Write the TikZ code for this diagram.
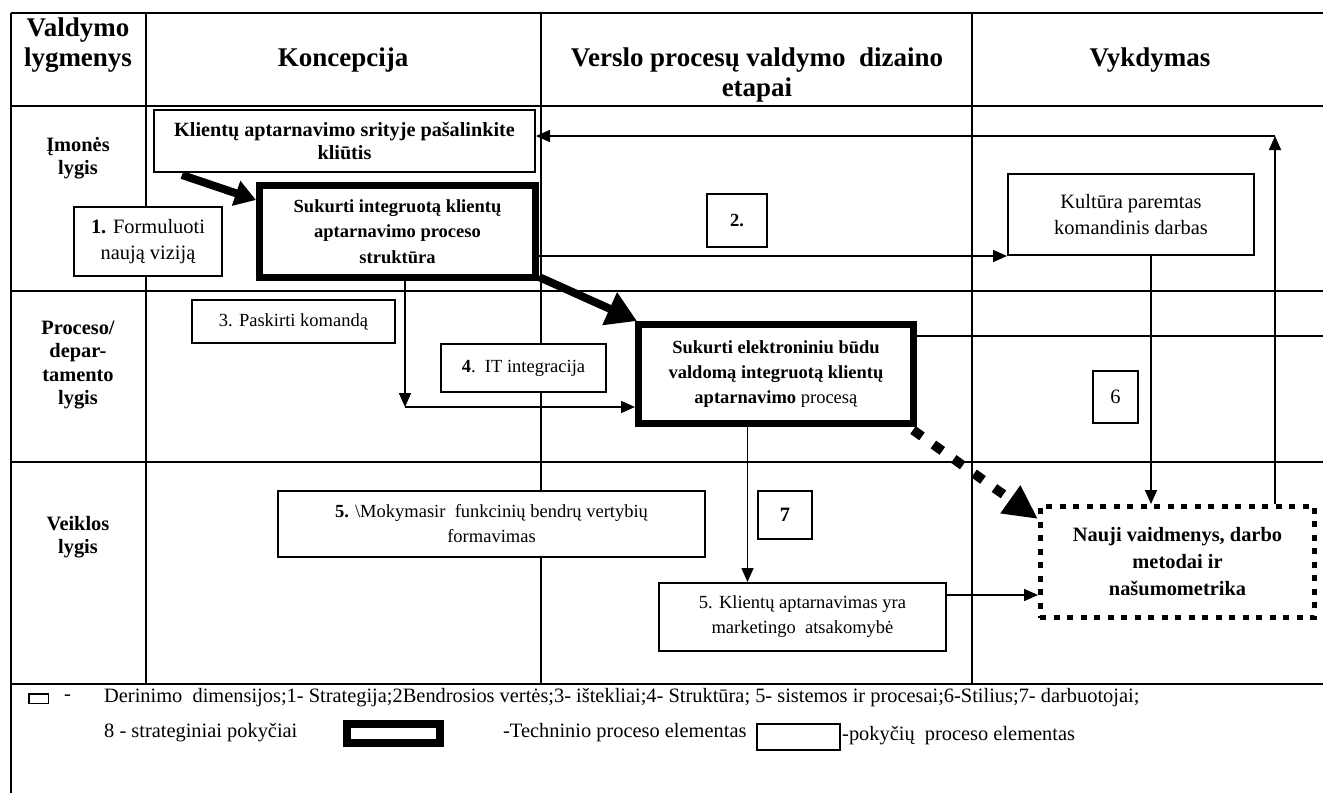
\documentclass[tikz,border=0pt]{standalone}
\usepackage{fontspec}
\setmainfont{Liberation Serif}
\usetikzlibrary{arrows.meta,calc}

\begin{document}
\begin{tikzpicture}[x=1pt,y=-1pt,
  gridline/.style={line width=2.6pt},
  txt/.style={inner sep=0pt,align=center},
  headfont/.style={txt,font=\bfseries\fontsize{27}{30}\selectfont},
  levelfont/.style={txt,font=\bfseries\fontsize{20.4}{23.3}\selectfont},
  plainbox/.style={draw,fill=white,line width=1.8pt,inner sep=0pt,align=center,
    font=\fontsize{18.5}{25}\selectfont},
  bigbox/.style={plainbox,font=\fontsize{20.4}{26.5}\selectfont},
  heavybox/.style={plainbox,line width=7pt,font=\bfseries\fontsize{18.5}{25.2}\selectfont},
  dotbox/.style={draw,fill=white,line width=4.8pt,dash pattern=on 6pt off 7.5pt,
    inner sep=0pt,align=center,font=\bfseries\fontsize{20.4}{27}\selectfont},
  conn/.style={line width=1.6pt,-{Triangle[length=14pt,width=12pt]}},
  fatarrow/.style={line width=8pt,-{Triangle[length=21pt,width=25pt]}},
  fatarrowb/.style={line width=8pt,-{Triangle[length=30pt,width=34pt]}},
  dotarrow/.style={line width=9.5pt,dash pattern=on 11pt off 14pt,
    -{Triangle[length=34pt,width=32pt]}},
  legendfont/.style={inner sep=0pt,anchor=west,font=\fontsize{20.4}{24}\selectfont},
]
\useasboundingbox (0,0) rectangle (1323,793);
\fill[white] (0,0) rectangle (1323,793);

% table grid
\draw[gridline] (11,13) -- (1323,13);
\draw[gridline] (11,106) -- (1323,106);
\draw[gridline] (11,291) -- (1323,291);
\draw[gridline] (11,462) -- (1323,462);
\draw[gridline] (11,684) -- (1323,684);
\draw[gridline] (11,13) -- (11,793);
\draw[gridline] (146,13) -- (146,684);
\draw[gridline] (541,13) -- (541,684);
\draw[gridline] (972,13) -- (972,684);

% column headers
\node[headfont] (hlevels) at (78,45) {Valdymo\\lygmenys};
\node[headfont] (hconcept) at (343,60) {Koncepcija};
\node[headfont] (hdesign) at (757,75) {Verslo procesų valdymo\ \ dizaino\\etapai};
\node[headfont] (hexec) at (1150,60) {Vykdymas};

% row labels
\node[levelfont] (lcompany) at (78,158.5) {Įmonės\\lygis};
\node[levelfont] (lprocess) at (78,365) {Proceso/\\depar-\\tamento\\lygis};
\node[levelfont] (lactivity) at (78,537) {Veiklos\\lygis};

% process elements
\node[plainbox,font=\bfseries\fontsize{20.2}{23}\selectfont,
  minimum width=381.2pt,minimum height=62.2pt] (klient) at (344.5,141)
  {Klientų aptarnavimo srityje pašalinkite\\kliūtis};
\node[heavybox,minimum width=276pt,minimum height=92pt] (suk1) at (397.5,231.5)
  {Sukurti integruotą klientų\\aptarnavimo proceso\\struktūra};
\node[bigbox,minimum width=148.2pt,minimum height=69.2pt] (form) at (148,241.5)
  {\textbf{1.} Formuluoti\\naują viziją};
\node[plainbox,font=\bfseries\fontsize{18.5}{22}\selectfont,
  minimum width=60.2pt,minimum height=53.2pt] (two) at (737,220.5) {2.};
\node[bigbox,minimum width=246.2pt,minimum height=81.2pt] (kult) at (1131,214.5)
  {Kultūra paremtas\\komandinis darbas};
\node[plainbox,minimum width=203.2pt,minimum height=43.2pt] (pask) at (293.5,321.5)
  {3. Paskirti komandą};
\node[plainbox,minimum width=165.2pt,minimum height=48.2pt] (itint) at (523.5,368)
  {\textbf{4}.\ \ IT integracija};
\node[heavybox,minimum width=275pt,minimum height=99pt] (suk2) at (776,374)
  {Sukurti elektroniniu būdu\\valdomą integruotą klientų\\aptarnavimo \textmd{procesą}};
\node[bigbox,minimum width=45.2pt,minimum height=52.2pt] (six) at (1115.5,397) {6};
\node[plainbox,minimum width=427.2pt,minimum height=66.2pt] (mok) at (491.5,524)
  {\textbf{5.} \textbackslash Mokymasir\ \ funkcinių bendrų vertybių\\formavimas};
\node[bigbox,font=\bfseries\fontsize{20.4}{24}\selectfont,
  minimum width=54.2pt,minimum height=48.2pt] (seven) at (785,515) {7};
\node[plainbox,minimum width=287.2pt,minimum height=68.2pt] (klapt) at (802.5,617)
  {5. Klientų aptarnavimas yra\\marketingo\ \ atsakomybė};
\node[dotbox,minimum width=274.2pt,minimum height=111.2pt] (nauji) at (1177.5,562)
  {Nauji vaidmenys, darbo\\metodai ir\\našumometrika};

% connectors
\coordinate (fb) at (1275,136);
\coordinate (bend) at (405,407);
\coordinate (redge) at (1323,336);

\draw[fatarrow] ([xshift=29pt,yshift=-2pt]klient.south west) -- ([yshift=-18pt]suk1.north west);
\draw[fatarrowb] ([yshift=4pt]suk1.south east) -- ([xshift=2pt]suk2.north west);
\draw[conn] (suk1.east |- kult.south west) -- (kult.south west);
\draw[conn] ([xshift=20pt]kult.south) -- ([xshift=20pt]kult.south |- nauji.north);
\draw[conn] (fb |- nauji.north) -- (fb);
\draw[conn] (fb) -- (fb -| klient.east);
\draw[conn] (bend |- suk1.south) -- (bend);
\draw[conn] (bend) -- (bend -| suk2.west);
\draw[line width=1.6pt] (suk2.east |- redge) -- (redge);
\draw[conn] ([xshift=-28.5pt]suk2.south) -- ([xshift=-28.5pt]suk2.south |- klapt.north);
\draw[conn] ([yshift=22pt]klapt.east) -- ([yshift=22pt]klapt.east -| nauji.west);
\draw[dotarrow] ([xshift=-4pt,yshift=-3pt]suk2.south east) -- ([yshift=-15pt]nauji.north west);

% legend
\node[draw,line width=1.5pt,inner sep=0pt,minimum width=19.5pt,minimum height=9.5pt]
  (lgsmall) at (38.5,698.5) {};
\node[legendfont] (lgdash) at (64,698) {-};
\node[legendfont] (lgline1) at (104,698)
  {Derinimo\ \ dimensijos;1- Strategija;2Bendrosios vertės;3- ištekliai;4- Struktūra; 5- sistemos ir procesai;6-Stilius;7- darbuotojai;};
\node[legendfont] (lgline2) at (104,733) {8 - strateginiai pokyčiai};
\node[draw,line width=8pt,inner sep=0pt,minimum width=93pt,minimum height=19pt]
  (lgheavy) at (393.5,733.5) {};
\node[legendfont] (lgtech) at (503,733) {-Techninio proceso elementas};
\node[draw,line width=1.8pt,inner sep=0pt,minimum width=83.2pt,minimum height=26.2pt]
  (lgthin) at (798.5,737) {};
\node[legendfont] (lgchange) at (842,736) {-pokyčių\ \ proceso elementas};
\end{tikzpicture}
\end{document}
